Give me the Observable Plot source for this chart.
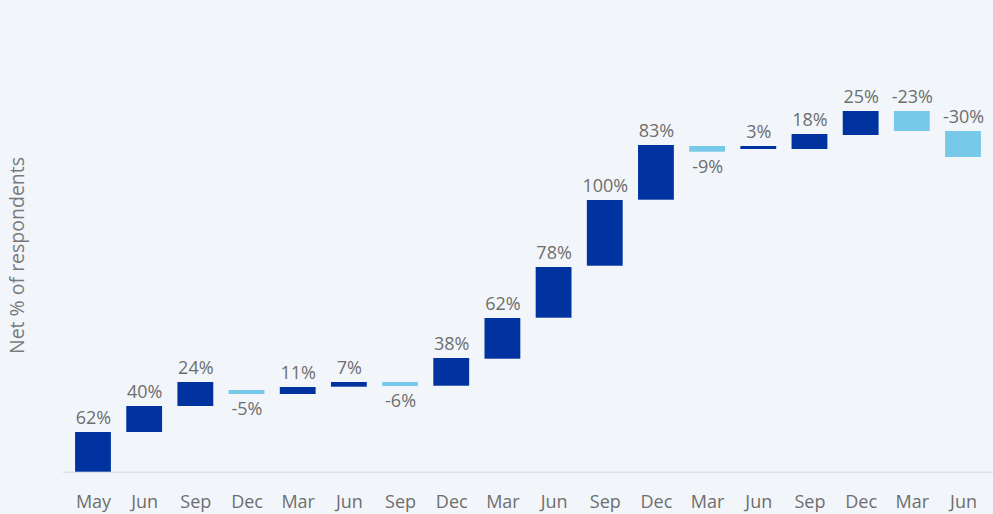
<!DOCTYPE html>
<html><head><meta charset="utf-8">
<script src="https://cdn.jsdelivr.net/npm/d3@7"></script>
<script src="https://cdn.jsdelivr.net/npm/@observablehq/plot@0.6"></script>
<style>
html,body{margin:0;padding:0;background:#f2f6fa;}
#chart{width:993px;height:514px;}
</style></head><body><div id="chart"></div>
<script>
// Period labels (x axis)
const months = ["May","Jun","Sep","Dec","Mar","Jun","Sep","Dec","Mar","Jun","Sep","Dec","Mar","Jun","Sep","Dec","Mar","Jun"];
// Percentage change printed on each bar
const changes = [62,40,24,-5,11,7,-6,38,62,78,100,83,-9,3,18,25,-23,-30];
// Floating bar extents (net % of respondents level)
const barLow  = [0,39.7,65.7,77.7,77.7,85,85.7,86,113,154,206,272,320,322.7,322.7,336.7,340.7,314.7];
const barHigh = [39.7,65.7,89.7,81.7,84.7,89.7,89.7,113.7,153.7,204.7,271.7,326.7,325.7,325.7,337.7,360.7,360.7,340.7];
const yTitle = "Net % of respondents";

const data = months.map((m,i)=>({i, month:m, change:changes[i], low:barLow[i], high:barHigh[i]}));
const labelBelowIdx = new Set([3,6,12]);
const dark = "#0033a0", light = "#76c9e9", txt = "#6e6e6e";

const chart = Plot.plot({
  width: 993, height: 514,
  marginLeft: 63, marginRight: 0, marginTop: 71.7, marginBottom: 42.3,
  style: {background: "transparent", fontFamily: "'Open Sans', sans-serif", fontSize: "18px", color: txt},
  x: {type: "band", domain: d3.range(months.length), paddingInner: 0.3, paddingOuter: 0.236, round: false,
      tickFormat: i => months[i], tickSize: 0, tickPadding: 23, label: null},
  y: {domain: [0, 400], axis: null},
  marks: [
    Plot.ruleY([0], {stroke: "#dde1e6", strokeWidth: 1.5}),
    Plot.barY(data.filter(d => d.change >= 0), {x: "i", y1: "low", y2: "high", fill: dark}),
    Plot.barY(data.filter(d => d.change < 0), {x: "i", y1: "low", y2: "high", fill: light}),
    Plot.text(data.filter(d => !labelBelowIdx.has(d.i)), {x: "i", y: "high", text: d => d.change + "%", lineAnchor: "bottom", dy: -9, fill: txt, fontSize: 18}),
    Plot.text(data.filter(d => labelBelowIdx.has(d.i)), {x: "i", y: "low", text: d => d.change + "%", lineAnchor: "top", dy: 8, fill: txt, fontSize: 18}),
    Plot.text([yTitle], {text: d => d, frameAnchor: "left", textAnchor: "middle", rotate: -90, dx: -45.5, dy: -16.7, fill: "#7a7a7a", fontSize: 19.5})
  ]
});
document.getElementById("chart").appendChild(chart);
</script></body></html>
